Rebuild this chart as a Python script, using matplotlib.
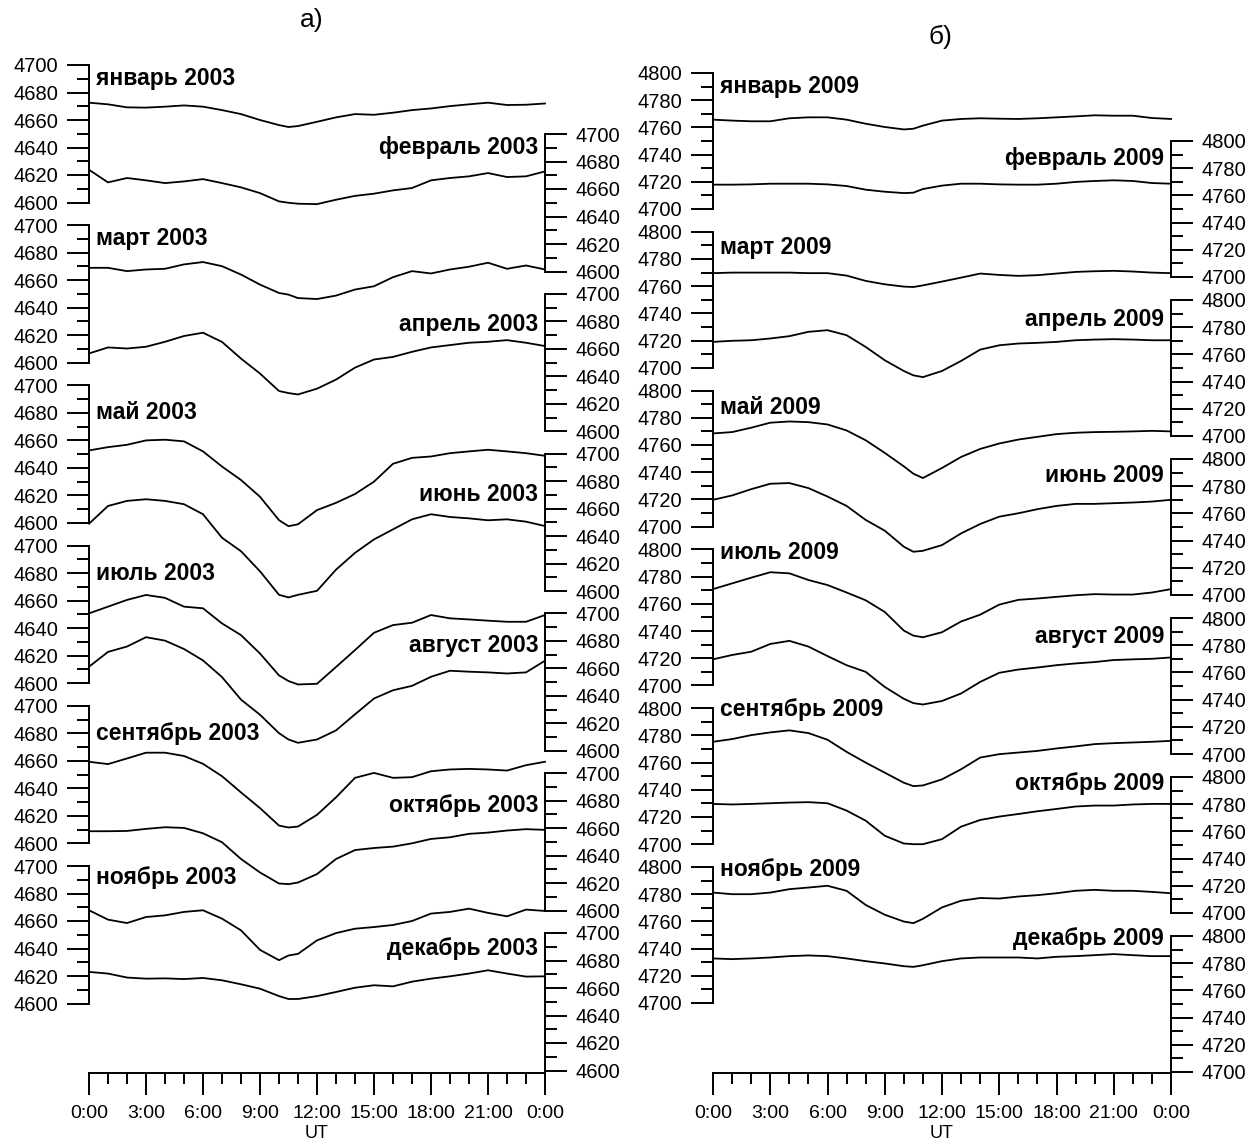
import matplotlib
matplotlib.use("Agg")
import matplotlib.pyplot as plt
from matplotlib.ticker import MultipleLocator, FixedLocator

plt.rcParams['font.family'] = ['Liberation Sans', 'DejaVu Sans']

# ------------------------
# Data, hourly UT + 10:30
# ------------------------
hours = [0, 1, 2, 3, 4, 5, 6, 7, 8, 9, 10, 10.5, 11, 12,
         13, 14, 15, 16, 17, 18, 19, 20, 21, 22, 23, 24]

months = ['январь', 'февраль', 'март', 'апрель', 'май', 'июнь',
          'июль', 'август', 'сентябрь', 'октябрь', 'ноябрь', 'декабрь']

# 2003 (panel a)
jan_2003 = [4672.6, 4671.4, 4669.2, 4669.0, 4669.7, 4670.6, 4669.7, 4667.2, 4664.3, 4660.0, 4656.3, 4654.9, 4655.6,
            4658.7, 4661.9, 4664.3, 4663.8, 4665.3, 4667.2, 4668.4, 4670.1, 4671.4, 4672.6, 4670.9, 4671.1, 4672.0]
feb_2003 = [4674.0, 4664.8, 4668.0, 4666.3, 4664.3, 4665.5, 4667.2, 4664.3, 4661.2, 4657.0, 4651.0, 4650.0, 4649.3,
            4649.0, 4652.2, 4655.0, 4656.6, 4659.0, 4660.7, 4666.3, 4668.0, 4669.2, 4671.6, 4668.7, 4669.2, 4672.8]
mar_2003 = [4669.0, 4669.0, 4666.6, 4667.8, 4668.3, 4671.5, 4673.2, 4670.2, 4664.1, 4656.8, 4650.7, 4649.5, 4647.0,
            4646.3, 4648.8, 4653.2, 4655.6, 4662.2, 4666.6, 4664.9, 4667.8, 4669.8, 4672.7, 4668.3, 4670.7, 4667.8]
apr_2003 = [4656.6, 4661.0, 4660.2, 4661.5, 4665.1, 4669.3, 4671.7, 4665.0, 4652.9, 4642.0, 4629.3, 4627.8, 4626.8,
            4631.0, 4637.6, 4646.3, 4652.2, 4654.1, 4657.8, 4661.0, 4662.7, 4664.4, 4665.1, 4666.3, 4664.4, 4662.0]
may_2003 = [4652.7, 4655.1, 4656.8, 4660.0, 4660.5, 4659.3, 4652.0, 4641.0, 4631.2, 4619.0, 4602.0, 4597.6, 4599.0,
            4609.3, 4614.6, 4621.0, 4630.0, 4643.0, 4647.3, 4648.3, 4650.7, 4652.0, 4653.2, 4652.0, 4650.7, 4648.8]
jun_2003 = [4649.0, 4661.9, 4665.6, 4666.8, 4665.6, 4663.2, 4655.9, 4638.8, 4629.0, 4614.4, 4597.3, 4595.4, 4597.3,
            4600.2, 4615.6, 4627.8, 4637.6, 4644.9, 4652.2, 4655.9, 4653.9, 4652.9, 4651.5, 4652.2, 4650.5, 4647.3]
jul_2003 = [4650.7, 4655.6, 4660.5, 4664.1, 4662.0, 4655.6, 4654.4, 4643.4, 4634.9, 4621.5, 4605.6, 4601.5, 4599.0,
            4599.5, 4611.7, 4624.0, 4636.6, 4642.2, 4643.9, 4649.5, 4647.1, 4646.3, 4645.4, 4644.6, 4644.6, 4649.5]
aug_2003 = [4661.2, 4672.0, 4675.9, 4682.7, 4680.2, 4674.1, 4665.8, 4653.7, 4637.3, 4626.3, 4612.9, 4608.3, 4605.9,
            4608.3, 4614.9, 4626.6, 4638.1, 4644.1, 4647.3, 4653.9, 4658.3, 4657.6, 4657.1, 4656.3, 4657.1, 4665.6]
sep_2003 = [4659.3, 4657.6, 4661.7, 4665.9, 4665.9, 4663.5, 4657.8, 4648.8, 4637.0, 4625.6, 4612.9, 4611.5, 4612.2,
            4620.7, 4633.4, 4647.6, 4651.2, 4647.6, 4648.1, 4652.4, 4653.7, 4654.1, 4653.7, 4652.9, 4656.8, 4659.3]
oct_2003 = [4657.8, 4657.8, 4658.0, 4659.5, 4660.7, 4660.2, 4656.3, 4649.8, 4637.6, 4627.8, 4619.8, 4619.3, 4620.5,
            4626.6, 4637.6, 4644.1, 4645.6, 4646.6, 4649.0, 4652.2, 4653.4, 4655.9, 4656.8, 4658.3, 4659.3, 4658.8]
nov_2003 = [4667.8, 4661.0, 4658.5, 4662.9, 4664.1, 4666.6, 4667.8, 4661.7, 4653.2, 4639.0, 4631.5, 4634.9, 4636.1,
            4645.9, 4651.2, 4654.4, 4655.6, 4657.1, 4660.0, 4665.4, 4666.6, 4669.0, 4665.9, 4663.4, 4668.3, 4667.3]
dec_2003 = [4671.7, 4670.5, 4667.6, 4666.8, 4667.0, 4666.5, 4667.3, 4665.6, 4662.7, 4659.5, 4654.1, 4652.0, 4652.0,
            4654.1, 4657.1, 4660.2, 4662.0, 4661.2, 4664.6, 4666.8, 4668.5, 4670.5, 4672.9, 4670.5, 4668.3, 4668.5]

# 2009 (panel б)
jan_2009 = [4765.7, 4765.0, 4764.5, 4764.5, 4766.7, 4767.4, 4767.4, 4765.7, 4762.7, 4760.3, 4758.5, 4759.0, 4761.3,
            4765.0, 4766.2, 4766.7, 4766.4, 4766.2, 4766.7, 4767.4, 4768.1, 4768.9, 4768.6, 4768.6, 4766.9, 4766.2]
feb_2009 = [4767.9, 4767.9, 4768.1, 4768.6, 4768.6, 4768.6, 4768.1, 4766.9, 4764.2, 4762.7, 4761.7, 4762.0, 4764.7,
            4767.2, 4768.6, 4768.6, 4768.1, 4767.9, 4767.9, 4768.6, 4769.9, 4770.6, 4771.1, 4770.6, 4769.1, 4768.6]
mar_2009 = [4769.6, 4770.0, 4770.0, 4770.0, 4770.0, 4769.6, 4769.6, 4767.8, 4763.9, 4761.4, 4759.7, 4759.4, 4760.6,
            4763.4, 4766.3, 4769.3, 4768.3, 4767.6, 4768.1, 4769.3, 4770.5, 4771.0, 4771.3, 4770.8, 4770.0, 4769.6]
apr_2009 = [4769.2, 4770.0, 4770.4, 4771.7, 4773.4, 4776.6, 4777.8, 4774.1, 4765.5, 4755.7, 4747.8, 4744.6, 4743.3,
            4747.8, 4755.2, 4763.5, 4766.7, 4768.0, 4768.5, 4769.2, 4770.4, 4770.9, 4771.2, 4770.9, 4770.4, 4770.4]
may_2009 = [4768.5, 4769.5, 4772.7, 4776.4, 4777.3, 4776.8, 4775.1, 4770.7, 4763.5, 4754.2, 4744.3, 4738.9, 4735.7,
            4743.1, 4751.2, 4757.1, 4761.1, 4764.0, 4766.0, 4768.0, 4769.0, 4769.5, 4769.7, 4770.0, 4770.4, 4770.0]
jun_2009 = [4770.0, 4773.2, 4777.8, 4781.8, 4782.3, 4778.6, 4772.4, 4765.5, 4755.2, 4747.3, 4735.5, 4731.8, 4732.5,
            4736.7, 4745.3, 4752.2, 4757.6, 4760.1, 4763.1, 4765.5, 4767.0, 4767.0, 4767.5, 4768.0, 4768.7, 4770.0]
jul_2009 = [4770.8, 4775.0, 4779.2, 4783.2, 4782.4, 4777.5, 4773.8, 4768.3, 4762.6, 4754.0, 4740.3, 4736.6, 4735.4,
            4739.1, 4747.0, 4752.0, 4759.4, 4762.9, 4763.9, 4765.1, 4766.3, 4767.1, 4766.8, 4766.8, 4768.3, 4770.8]
aug_2009 = [4769.6, 4772.8, 4775.2, 4780.9, 4783.2, 4779.0, 4772.0, 4765.3, 4760.4, 4749.3, 4740.6, 4737.4, 4736.4,
            4739.0, 4744.5, 4753.0, 4759.7, 4762.1, 4763.6, 4765.3, 4766.6, 4767.6, 4769.1, 4769.6, 4770.0, 4771.0]
sep_2009 = [4775.3, 4777.3, 4780.2, 4782.2, 4783.7, 4781.7, 4776.8, 4767.9, 4760.0, 4752.6, 4745.2, 4742.7, 4743.2,
            4747.7, 4755.1, 4763.7, 4766.2, 4767.4, 4768.6, 4770.4, 4771.9, 4773.6, 4774.3, 4774.8, 4775.3, 4776.0]
oct_2009 = [4780.2, 4779.8, 4780.2, 4780.7, 4781.2, 4781.5, 4780.7, 4775.3, 4767.9, 4756.8, 4751.1, 4750.6, 4750.6,
            4754.3, 4763.5, 4768.4, 4770.9, 4772.8, 4774.8, 4776.5, 4778.3, 4779.0, 4779.0, 4779.8, 4780.2, 4780.2]
nov_2009 = [4781.2, 4780.0, 4780.0, 4781.2, 4783.7, 4784.9, 4786.2, 4782.5, 4772.1, 4764.9, 4759.9, 4758.7, 4761.9,
            4770.3, 4775.2, 4777.2, 4776.8, 4778.3, 4779.3, 4780.7, 4782.5, 4783.2, 4782.5, 4782.5, 4781.7, 4780.7]
dec_2009 = [4783.5, 4783.0, 4783.5, 4784.2, 4785.2, 4785.7, 4785.2, 4783.5, 4781.5, 4779.8, 4777.8, 4777.3, 4778.5,
            4781.5, 4783.5, 4784.2, 4784.2, 4784.2, 4783.5, 4784.7, 4785.2, 4785.9, 4786.7, 4785.9, 4785.2, 4785.2]

series_2003 = [jan_2003, feb_2003, mar_2003, apr_2003, may_2003, jun_2003,
               jul_2003, aug_2003, sep_2003, oct_2003, nov_2003, dec_2003]
series_2009 = [jan_2009, feb_2009, mar_2009, apr_2009, may_2009, jun_2009,
               jul_2009, aug_2009, sep_2009, oct_2009, nov_2009, dec_2009]

# heights (in each axis' units) where the month names sit
label_y_2003 = [4690.5, 4690, 4690.5, 4678, 4680, 4670, 4680, 4677, 4680, 4676.5, 4691.5, 4689]
label_y_2009 = [4790, 4787, 4788.5, 4785.5, 4787.5, 4787.5, 4798, 4786.5, 4799, 4795.5, 4798.5, 4798.3]

time_ticks = [0, 3, 6, 9, 12, 15, 18, 21, 24]
time_labels = ['0:00', '3:00', '6:00', '9:00', '12:00', '15:00', '18:00', '21:00', '0:00']

# ------------------------
# Figure / layout (pixel based)
# ------------------------
W, H = 1259, 1146
fig = plt.figure(figsize=(W / 100, H / 100), dpi=100)

TICK_FS = 14.5
LW = 1.4


def px_axes(left, top, width, height):
    return fig.add_axes([left / W, 1 - (top + height) / H, width / W, height / H])


def draw_panel(x0, x1, left_top, left_step, right_top, right_step, height,
               ymin, year, series, label_y):
    for i, (name, values) in enumerate(zip(months, series)):
        right = i % 2 == 1
        k = i // 2
        top = right_top + right_step * k if right else left_top + left_step * k
        ax = px_axes(x0, top, x1 - x0, height)
        ax.patch.set_alpha(0)
        ax.set_xlim(0, 24)
        ax.set_ylim(ymin, ymin + 100)
        ax.plot(hours, values, color='black', lw=1.3, clip_on=False)

        side = 'right' if right else 'left'
        for s in ax.spines:
            ax.spines[s].set_visible(s == side)
        ax.spines[side].set_linewidth(LW)
        ax.set_xticks([])
        ax.yaxis.set_ticks_position(side)
        ax.yaxis.set_major_locator(MultipleLocator(20))
        ax.yaxis.set_minor_locator(MultipleLocator(10))
        ax.tick_params(axis='y', which='major', length=16, width=LW,
                       labelsize=TICK_FS, pad=6)
        ax.tick_params(axis='y', which='minor', length=8.5, width=LW)

        tx = 0.985 if right else 0.015
        ax.text(tx, label_y[i], f'{name} {year}', transform=ax.get_yaxis_transform(),
                ha='right' if right else 'left', va='center',
                fontsize=16.5, fontweight='bold')

    # time axis at the bottom
    axx = px_axes(x0, 1072, x1 - x0, 1)
    axx.patch.set_alpha(0)
    for s in axx.spines:
        axx.spines[s].set_visible(s == 'bottom')
    axx.spines['bottom'].set_linewidth(LW)
    axx.set_xlim(0, 24)
    axx.set_yticks([])
    axx.xaxis.set_major_locator(FixedLocator(time_ticks))
    axx.xaxis.set_minor_locator(MultipleLocator(1))
    axx.set_xticklabels(time_labels)
    axx.tick_params(axis='x', which='major', length=16, width=LW,
                    labelsize=14, pad=7)
    axx.tick_params(axis='x', which='minor', length=8, width=LW)
    axx.set_xlabel('UT', fontsize=13, labelpad=2)


draw_panel(89, 545, 65, 160.2, 134, 159.8, 137.5, 4600, 2003, series_2003, label_y_2003)
draw_panel(713, 1171, 73, 158.8, 141, 159.0, 136, 4700, 2009, series_2009, label_y_2009)

fig.text(312 / W, 1 - 20 / H, 'а)', ha='center', va='center', fontsize=19)
fig.text(940 / W, 1 - 37 / H, 'б)', ha='center', va='center', fontsize=19)

fig.savefig('out.png', dpi=100, facecolor='white')
